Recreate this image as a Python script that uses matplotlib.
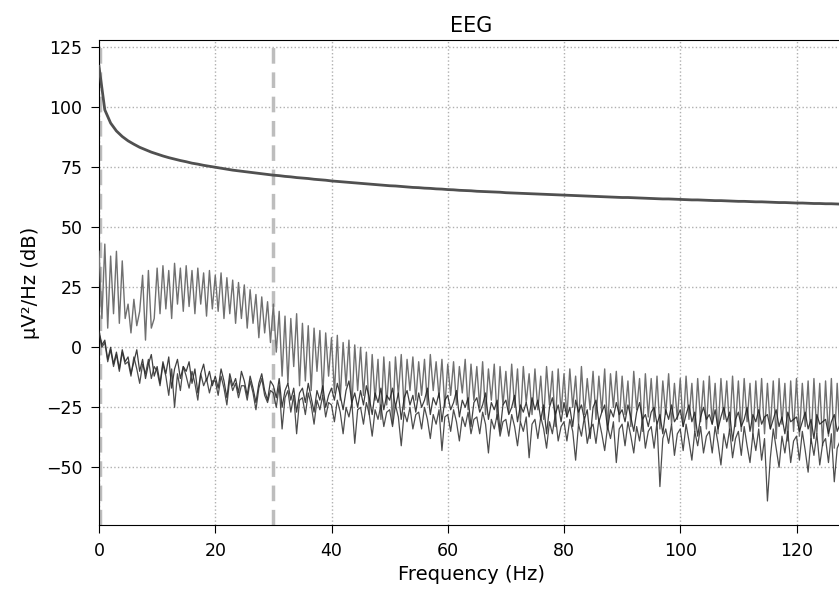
import numpy as np
import matplotlib
matplotlib.use("Agg")
import matplotlib.pyplot as plt

# ---------------- data ----------------
# smooth channel, 1 Hz resolution (dB)
freqs_a = np.arange(0, 129, 1.0)
psd_a = [117.0, 98.9, 93.4, 90.1, 87.8, 86.0, 84.6, 83.3, 82.3, 81.3,
         80.5, 79.7, 79.0, 78.4, 77.8, 77.3, 76.7, 76.3, 75.8, 75.4,
         75.0, 74.6, 74.2, 73.8, 73.5, 73.2, 72.9, 72.6, 72.3, 72.0,
         71.7, 71.5, 71.2, 71.0, 70.7, 70.5, 70.3, 70.0, 69.8, 69.6,
         69.3, 69.1, 68.9, 68.7, 68.5, 68.3, 68.1, 67.9, 67.7, 67.5,
         67.3, 67.2, 67.0, 66.8, 66.6, 66.5, 66.3, 66.2, 66.0, 65.9,
         65.7, 65.6, 65.4, 65.3, 65.2, 65.0, 64.9, 64.8, 64.7, 64.6,
         64.4, 64.3, 64.2, 64.1, 64.0, 63.9, 63.8, 63.7, 63.6, 63.5,
         63.4, 63.3, 63.2, 63.1, 63.0, 62.9, 62.8, 62.7, 62.6, 62.5,
         62.4, 62.4, 62.3, 62.2, 62.1, 62.0, 61.9, 61.8, 61.8, 61.7,
         61.6, 61.5, 61.4, 61.4, 61.3, 61.2, 61.1, 61.1, 61.0, 60.9,
         60.8, 60.8, 60.7, 60.6, 60.6, 60.5, 60.4, 60.3, 60.3, 60.2,
         60.1, 60.1, 60.0, 59.9, 59.9, 59.8, 59.8, 59.7, 59.6]

# noisy channels, 0.5 Hz resolution (dB)
freqs = np.arange(0, 128.5, 0.5)
psd_b = [40, 12, 43, 8, 38, 14, 40, 10, 36, 12,
         18, 6, 20, 9, 15, 30, 3, 32, 8, 12,
         33, 14, 34, 16, 32, 12, 35, 18, 33, 15,
         34, 17, 32, 14, 33, 18, 31, 13, 32, 16,
         30, 15, 31, 12, 29, 14, 28, 10, 27, 12,
         26, 8, 24, 10, 22, 4, 21, 6, 19, 2,
         18, -2, 15, -12, 13, -15, 12, -8, 14, -16,
         10, -14, 9, -18, 8, -10, 7, -20, 6, -12,
         4, -19, 5, -22, 2, -16, 3, -25, 1, -18,
         0, -20, -2, -28, -3, -22, -5, -30, -4, -24,
         -6, -32, -4, -20, -3, -26, -5, -18, -4, -22,
         -6, -20, -5, -24, -3, -18, -6, -21, -5, -25,
         -7, -20, -6, -24, -8, -19, -5, -26, -7, -22,
         -8, -25, -6, -28, -9, -22, -7, -30, -8, -24,
         -10, -27, -7, -25, -9, -31, -8, -23, -11, -28,
         -9, -26, -12, -30, -8, -24, -10, -33, -9, -27,
         -11, -29, -9, -25, -12, -32, -8, -28, -13, -26,
         -10, -30, -12, -27, -9, -34, -11, -25, -10, -31,
         -12, -28, -14, -33, -10, -26, -13, -35, -11, -29,
         -13, -31, -12, -34, -14, -28, -11, -32, -15, -30,
         -13, -33, -12, -30, -15, -35, -13, -31, -14, -34,
         -12, -32, -15, -36, -13, -30, -14, -35, -12, -33,
         -14, -35, -13, -31, -15, -37, -14, -33, -13, -36,
         -15, -34, -14, -38, -13, -32, -15, -39, -14, -35,
         -13, -37, -15, -33, -14, -40, -13, -36, -15, -41,
         -14, -37, -13, -42, -15, -38, -14]
psd_c = [7, 1, 3, -5, 0, -7, -2, -9, -1, -6,
         -4, -11, -6, -1, -10, -5, -13, -7, -3, -12,
         -8, -15, -6, -11, -4, -17, -9, -5, -13, -8,
         -10, -6, -15, -9, -19, -11, -7, -14, -10, -16,
         -12, -17, -9, -14, -21, -11, -16, -13, -19, -10,
         -14, -20, -12, -17, -23, -15, -11, -18, -22, -14,
         -16, -21, -13, -25, -18, -15, -22, -17, -27, -19,
         -17, -23, -15, -21, -27, -18, -22, -16, -25, -20,
         -17, -22, -15, -20, -26, -18, -14, -23, -19, -25,
         -18, -24, -16, -21, -28, -19, -23, -17, -26, -20,
         -22, -17, -25, -19, -30, -21, -18, -24, -20, -27,
         -19, -25, -22, -17, -28, -21, -24, -19, -31, -22,
         -20, -26, -23, -18, -29, -22, -25, -21, -33, -23,
         -21, -27, -24, -19, -30, -23, -26, -22, -35, -24,
         -22, -28, -25, -20, -31, -24, -27, -23, -29, -21,
         -26, -22, -30, -24, -36, -25, -21, -28, -24, -31,
         -23, -29, -25, -33, -22, -27, -24, -30, -26, -38,
         -25, -22, -31, -27, -24, -34, -26, -29, -23, -28,
         -26, -31, -24, -29, -35, -27, -23, -30, -28, -33,
         -27, -25, -32, -28, -36, -26, -30, -24, -31, -29,
         -26, -33, -28, -24, -31, -27, -37, -29, -25, -30,
         -28, -32, -26, -34, -29, -25, -31, -27, -39, -30,
         -27, -33, -30, -25, -35, -28, -31, -26, -32, -29,
         -28, -34, -30, -26, -33, -29, -36, -27, -31, -30,
         -29, -35, -31, -27, -34, -30, -38, -28, -32, -31,
         -30, -36, -31, -28, -35, -32, -33]
psd_d = [6, 0, 2, -6, -1, -8, -3, -10, -2, -7,
         -6, -12, -4, -9, -15, -7, -11, -5, -13, -8,
         -10, -16, -7, -12, -20, -9, -25, -11, -18, -8,
         -12, -17, -10, -15, -22, -11, -16, -13, -19, -14,
         -14, -20, -12, -17, -24, -13, -18, -15, -21, -16,
         -16, -22, -14, -19, -26, -17, -13, -20, -23, -18,
         -19, -25, -16, -34, -21, -18, -27, -20, -36, -22,
         -21, -28, -19, -24, -32, -22, -26, -20, -29, -23,
         -24, -31, -22, -27, -36, -25, -29, -23, -40, -26,
         -25, -32, -23, -28, -37, -26, -30, -24, -33, -27,
         -26, -33, -24, -29, -41, -27, -31, -25, -34, -28,
         -27, -34, -25, -30, -38, -28, -32, -26, -43, -29,
         -28, -35, -26, -31, -39, -29, -33, -27, -36, -30,
         -29, -36, -27, -32, -44, -30, -34, -28, -37, -31,
         -30, -37, -28, -33, -41, -31, -35, -29, -46, -32,
         -30, -38, -29, -34, -42, -31, -36, -28, -39, -33,
         -31, -39, -30, -35, -47, -32, -37, -29, -40, -34,
         -32, -40, -30, -36, -43, -33, -38, -31, -48, -34,
         -32, -41, -31, -37, -44, -33, -39, -30, -42, -35,
         -33, -42, -31, -58, -38, -34, -40, -32, -45, -36,
         -34, -43, -32, -39, -47, -35, -41, -33, -44, -37,
         -35, -44, -33, -40, -49, -36, -42, -34, -46, -38,
         -35, -45, -33, -41, -48, -36, -43, -34, -47, -38,
         -64, -46, -34, -42, -50, -37, -44, -35, -48, -39,
         -37, -47, -35, -43, -52, -38, -45, -36, -49, -40,
         -38, -48, -36, -56, -42, -39, -44]

filter_lines = [0.1, 30.0]
xticks = [0, 20, 40, 60, 80, 100, 120]
yticks = [-50, -25, 0, 25, 50, 75, 100, 125]

# ---------------- plot ----------------
fig = plt.figure(figsize=(8.39, 5.89), dpi=100)
ax = fig.add_axes([99 / 839, 64 / 589, 744 / 839, 485 / 589])

ax.plot(freqs_a, psd_a, color="#505050", lw=2.0, zorder=3)
ax.plot(freqs, psd_b, color="#707070", lw=1.0, zorder=3)
ax.plot(freqs, psd_c, color="#1e1e1e", lw=0.9, alpha=0.85, zorder=4)
ax.plot(freqs, psd_d, color="#2e2e2e", lw=0.9, alpha=0.85, zorder=4)

for fl in filter_lines:
    ax.axvline(fl, color="#bdbdbd", ls=(0, (4.5, 2.5)), lw=2.5, zorder=2)

ax.set_xlim(0, 128)
ax.set_ylim(-74, 128)
ax.set_xticks(xticks)
ax.set_yticks(yticks)
ax.grid(True, ls=":", color="#b0b0b0", lw=1)
ax.tick_params(labelsize=12.5, length=5.5, pad=6.5)
ax.set_xlabel("Frequency (Hz)", fontsize=14)
ax.set_ylabel("µV²/Hz (dB)", fontsize=14)
ax.set_title("EEG", fontsize=15)

fig.savefig("out.png", dpi=100)
